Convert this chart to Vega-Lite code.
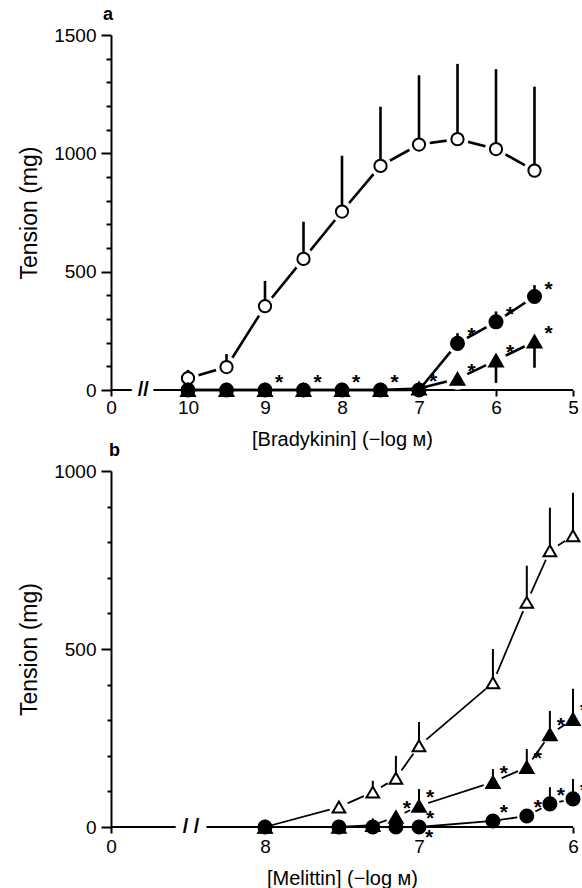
{
  "$schema": "https://vega.github.io/schema/vega-lite/v6.json",
  "padding": {"left": 18, "top": 6, "right": 0, "bottom": 0},
  "spacing": -7,
  "resolve": {"scale": {"shape": "independent", "fill": "independent", "size": "independent"}},
  "config": {
    "font": "Liberation Sans",
    "view": {"stroke": null},
    "axis": {"domainColor": "black", "tickColor": "black", "labelColor": "black", "titleColor": "black", "domainWidth": 2, "tickWidth": 2, "labelFontSize": 19, "titleFontSize": 20, "titleFontWeight": "normal", "grid": false, "labelOverlap": false}
  },
  "vconcat": [
    {
      "width": 462,
      "height": 355,
      "title": {"text": "a", "anchor": "start", "fontSize": 18, "fontWeight": "bold", "frame": "group", "dx": -8, "offset": 2, "color": "black"},
      "resolve": {"axis": {"y": "independent"}},
      "data": {"values": [
        {"x": 10, "y": 50, "bar": 85, "s": "ctrl", "star": 0},
        {"x": 9.5, "y": 97, "bar": 152, "s": "ctrl", "star": 0},
        {"x": 9, "y": 354, "bar": 461, "s": "ctrl", "star": 0},
        {"x": 8.5, "y": 554, "bar": 711, "s": "ctrl", "star": 0},
        {"x": 8, "y": 754, "bar": 990, "s": "ctrl", "star": 0},
        {"x": 7.5, "y": 947, "bar": 1197, "s": "ctrl", "star": 0},
        {"x": 7, "y": 1037, "bar": 1330, "s": "ctrl", "star": 0},
        {"x": 6.5, "y": 1060, "bar": 1378, "s": "ctrl", "star": 0},
        {"x": 6, "y": 1018, "bar": 1356, "s": "ctrl", "star": 0},
        {"x": 5.5, "y": 927, "bar": 1282, "s": "ctrl", "star": 0},
        {"x": 10, "y": 0, "bar": null, "s": "ft", "star": 0},
        {"x": 9.5, "y": 0, "bar": null, "s": "ft", "star": 0},
        {"x": 9, "y": 0, "bar": null, "s": "ft", "star": 0},
        {"x": 8.5, "y": 0, "bar": null, "s": "ft", "star": 0},
        {"x": 8, "y": 0, "bar": null, "s": "ft", "star": 0},
        {"x": 7.5, "y": 0, "bar": null, "s": "ft", "star": 0},
        {"x": 7, "y": 6, "bar": null, "s": "ft", "star": 1},
        {"x": 6.5, "y": 47, "bar": null, "s": "ft", "star": 1},
        {"x": 6, "y": 125, "bar": 30, "s": "ft", "star": 1},
        {"x": 5.5, "y": 205, "bar": 94, "s": "ft", "star": 1},
        {"x": 10, "y": 0, "bar": null, "s": "fc", "star": 0},
        {"x": 9.5, "y": 0, "bar": null, "s": "fc", "star": 0},
        {"x": 9, "y": 0, "bar": null, "s": "fc", "star": 1},
        {"x": 8.5, "y": 0, "bar": null, "s": "fc", "star": 1},
        {"x": 8, "y": 0, "bar": null, "s": "fc", "star": 1},
        {"x": 7.5, "y": 0, "bar": null, "s": "fc", "star": 1},
        {"x": 7, "y": 0, "bar": null, "s": "fc", "star": 0},
        {"x": 6.5, "y": 197, "bar": 240, "s": "fc", "star": 1},
        {"x": 6, "y": 288, "bar": 332, "s": "fc", "star": 1},
        {"x": 5.5, "y": 395, "bar": 443, "s": "fc", "star": 1}
      ]},
      "layer": [
        {
          "mark": {"type": "line", "strokeWidth": 2.6, "color": "black"},
          "encoding": {
            "x": {"field": "x", "type": "quantitative", "scale": {"domain": [11, 5], "nice": false},
              "axis": {"values": [11, 10, 9, 8, 7, 6, 5], "format": "d", "labelExpr": "datum.value == 11 ? '0' : datum.label", "domain": false, "tickSize": 6, "labelPadding": 2, "titlePadding": 12, "labelFlush": false, "labelOverlap": false, "title": "[Bradykinin] (−log ᴍ)"}},
            "y": {"field": "y", "type": "quantitative", "scale": {"domain": [0, 1500], "nice": false},
              "axis": {"orient": "left", "values": [0, 500, 1000, 1500], "format": "d", "labelOverlap": false, "labelFlush": false, "tickSize": 10, "labelPadding": 5, "titlePadding": 12, "titleFontSize": 23, "title": "Tension (mg)"}},
            "detail": {"field": "s"}
          }
        },
        {
          "data": {"values": [{}]},
          "mark": {"type": "rule", "strokeWidth": 2, "color": "black"},
          "encoding": {
            "x": {"datum": 11, "type": "quantitative"},
            "x2": {"datum": 10.73},
            "y": {"datum": 0, "type": "quantitative", "axis": null}
          }
        },
        {
          "data": {"values": [{}]},
          "mark": {"type": "rule", "strokeWidth": 2, "color": "black"},
          "encoding": {
            "x": {"datum": 10.45, "type": "quantitative"},
            "x2": {"datum": 5},
            "y": {"datum": 0, "type": "quantitative", "axis": null}
          }
        },
        {
          "data": {"values": [{}]},
          "mark": {"type": "text", "text": "//", "fontSize": 20, "fontWeight": "bold", "baseline": "middle", "align": "center", "color": "black"},
          "encoding": {
            "x": {"datum": 10.58, "type": "quantitative"},
            "y": {"datum": 0, "type": "quantitative", "axis": null}
          }
        },
        {
          "transform": [{"filter": "datum.y > 20"}],
          "mark": {"type": "point", "filled": true, "color": "white", "opacity": 1, "size": 480, "shape": "circle"},
          "encoding": {
            "x": {"field": "x", "type": "quantitative"},
            "y": {"field": "y", "type": "quantitative",
              "axis": {"orient": "left", "values": [100, 200, 300, 400, 600, 700, 800, 900, 1100, 1200, 1300, 1400], "labels": false, "domain": false, "tickSize": 5, "title": null}}
          }
        },
        {
          "transform": [{"filter": "datum.bar != null"}],
          "mark": {"type": "rule", "strokeWidth": 2.6, "color": "black"},
          "encoding": {
            "x": {"field": "x", "type": "quantitative"},
            "y": {"field": "y", "type": "quantitative", "axis": null},
            "y2": {"field": "bar"}
          }
        },
        {
          "mark": {"type": "point", "opacity": 1, "strokeWidth": 2, "stroke": "black"},
          "encoding": {
            "x": {"field": "x", "type": "quantitative"},
            "y": {"field": "y", "type": "quantitative", "axis": null},
            "shape": {"field": "s", "type": "nominal", "scale": {"domain": ["ft", "fc", "ctrl"], "range": ["triangle-up", "circle", "circle"]}, "legend": null},
            "fill": {"field": "s", "type": "nominal", "scale": {"domain": ["ft", "fc", "ctrl"], "range": ["black", "black", "white"]}, "legend": null},
            "size": {"field": "s", "type": "nominal", "scale": {"domain": ["ft", "fc", "ctrl"], "range": [190, 150, 130]}, "legend": null}
          }
        },
        {
          "transform": [{"filter": "datum.star >= 1"}],
          "mark": {"type": "text", "text": "*", "fontSize": 21, "fontWeight": "bold", "baseline": "alphabetic", "align": "center", "dx": 14, "dy": -1, "color": "black"},
          "encoding": {
            "x": {"field": "x", "type": "quantitative"},
            "y": {"field": "y", "type": "quantitative", "axis": null}
          }
        }
      ]
    },
    {
      "width": 462,
      "height": 356,
      "title": {"text": "b", "anchor": "start", "fontSize": 18, "fontWeight": "bold", "frame": "group", "dx": -2, "offset": 2, "color": "black"},
      "resolve": {"axis": {"y": "independent"}},
      "data": {"values": [
        {"x": 8, "y": 0, "bar": null, "s": "ot", "star": 0},
        {"x": 7.52, "y": 56, "bar": null, "s": "ot", "star": 0},
        {"x": 7.3, "y": 98, "bar": 130, "s": "ot", "star": 0},
        {"x": 7.15, "y": 137, "bar": 200, "s": "ot", "star": 0},
        {"x": 7, "y": 228, "bar": 295, "s": "ot", "star": 0},
        {"x": 6.52, "y": 405, "bar": 500, "s": "ot", "star": 0},
        {"x": 6.3, "y": 631, "bar": 734, "s": "ot", "star": 0},
        {"x": 6.15, "y": 776, "bar": 897, "s": "ot", "star": 0},
        {"x": 6, "y": 818, "bar": 939, "s": "ot", "star": 0},
        {"x": 8, "y": 0, "bar": null, "s": "ft", "star": 0},
        {"x": 7.52, "y": 0, "bar": null, "s": "ft", "star": 0},
        {"x": 7.3, "y": 5, "bar": null, "s": "ft", "star": 0},
        {"x": 7.15, "y": 28, "bar": null, "s": "ft", "star": 1},
        {"x": 7, "y": 59, "bar": 107, "s": "ft", "star": 1},
        {"x": 6.52, "y": 126, "bar": 163, "s": "ft", "star": 1},
        {"x": 6.3, "y": 168, "bar": 219, "s": "ft", "star": 1},
        {"x": 6.15, "y": 260, "bar": 326, "s": "ft", "star": 1},
        {"x": 6, "y": 303, "bar": 388, "s": "ft", "star": 1},
        {"x": 8, "y": 0, "bar": null, "s": "fc", "star": 0},
        {"x": 7.52, "y": 0, "bar": null, "s": "fc", "star": 0},
        {"x": 7.3, "y": 0, "bar": null, "s": "fc", "star": 0},
        {"x": 7.15, "y": 0, "bar": null, "s": "fc", "star": 0},
        {"x": 7, "y": 0, "bar": null, "s": "fc", "star": 2},
        {"x": 6.52, "y": 17, "bar": null, "s": "fc", "star": 1},
        {"x": 6.3, "y": 31, "bar": null, "s": "fc", "star": 1},
        {"x": 6.15, "y": 65, "bar": 112, "s": "fc", "star": 1},
        {"x": 6, "y": 79, "bar": 135, "s": "fc", "star": 1}
      ]},
      "layer": [
        {
          "mark": {"type": "line", "strokeWidth": 1.8, "color": "black"},
          "encoding": {
            "x": {"field": "x", "type": "quantitative", "scale": {"domain": [9, 6], "nice": false},
              "axis": {"values": [9, 8, 7, 6], "format": "d", "labelExpr": "datum.value == 9 ? '0' : datum.label", "domain": false, "tickSize": 6, "labelPadding": 4, "titlePadding": 12, "labelFlush": false, "labelOverlap": false, "title": "[Melittin] (−log ᴍ)"}},
            "y": {"field": "y", "type": "quantitative", "scale": {"domain": [0, 1000], "nice": false},
              "axis": {"orient": "left", "values": [0, 500, 1000], "format": "d", "labelOverlap": false, "labelFlush": false, "tickSize": 10, "labelPadding": 5, "titlePadding": 12, "titleFontSize": 23, "title": "Tension (mg)"}},
            "detail": {"field": "s"}
          }
        },
        {
          "data": {"values": [{}]},
          "mark": {"type": "rule", "strokeWidth": 2, "color": "black"},
          "encoding": {
            "x": {"datum": 9, "type": "quantitative"},
            "x2": {"datum": 8.58},
            "y": {"datum": 0, "type": "quantitative", "axis": null}
          }
        },
        {
          "data": {"values": [{}]},
          "mark": {"type": "rule", "strokeWidth": 2, "color": "black"},
          "encoding": {
            "x": {"datum": 8.38, "type": "quantitative"},
            "x2": {"datum": 6},
            "y": {"datum": 0, "type": "quantitative", "axis": null}
          }
        },
        {
          "data": {"values": [{}]},
          "mark": {"type": "text", "text": "/ /", "fontSize": 20, "fontWeight": "bold", "baseline": "middle", "align": "center", "color": "black"},
          "encoding": {
            "x": {"datum": 8.48, "type": "quantitative"},
            "y": {"datum": 0, "type": "quantitative", "axis": null}
          }
        },
        {
          "transform": [{"filter": "datum.y > 20"}],
          "mark": {"type": "point", "filled": true, "color": "white", "opacity": 1, "size": 380, "shape": "circle"},
          "encoding": {
            "x": {"field": "x", "type": "quantitative"},
            "y": {"field": "y", "type": "quantitative",
              "axis": {"orient": "left", "values": [100, 200, 300, 400, 600, 700, 800, 900], "labels": false, "domain": false, "tickSize": 4, "title": null}}
          }
        },
        {
          "transform": [{"filter": "datum.bar != null"}],
          "mark": {"type": "rule", "strokeWidth": 2, "color": "black"},
          "encoding": {
            "x": {"field": "x", "type": "quantitative"},
            "y": {"field": "y", "type": "quantitative", "axis": null},
            "y2": {"field": "bar"}
          }
        },
        {
          "mark": {"type": "point", "opacity": 1, "strokeWidth": 2, "stroke": "black"},
          "encoding": {
            "x": {"field": "x", "type": "quantitative"},
            "y": {"field": "y", "type": "quantitative", "axis": null},
            "shape": {"field": "s", "type": "nominal", "scale": {"domain": ["ft", "fc", "ot"], "range": ["triangle-up", "circle", "triangle-up"]}, "legend": null},
            "fill": {"field": "s", "type": "nominal", "scale": {"domain": ["ft", "fc", "ot"], "range": ["black", "black", "white"]}, "legend": null},
            "size": {"field": "s", "type": "nominal", "scale": {"domain": ["ft", "fc", "ot"], "range": [180, 160, 150]}, "legend": null}
          }
        },
        {
          "transform": [{"filter": "datum.star >= 1"}],
          "mark": {"type": "text", "text": "*", "fontSize": 21, "fontWeight": "bold", "baseline": "alphabetic", "align": "center", "dx": 11, "dy": -2, "color": "black"},
          "encoding": {
            "x": {"field": "x", "type": "quantitative"},
            "y": {"field": "y", "type": "quantitative", "axis": null}
          }
        },
        {
          "transform": [{"filter": "datum.star == 2"}],
          "mark": {"type": "text", "text": "*", "fontSize": 21, "fontWeight": "bold", "baseline": "alphabetic", "align": "center", "dx": 10, "dy": 17, "color": "black"},
          "encoding": {
            "x": {"field": "x", "type": "quantitative"},
            "y": {"field": "y", "type": "quantitative", "axis": null}
          }
        }
      ]
    }
  ]
}
